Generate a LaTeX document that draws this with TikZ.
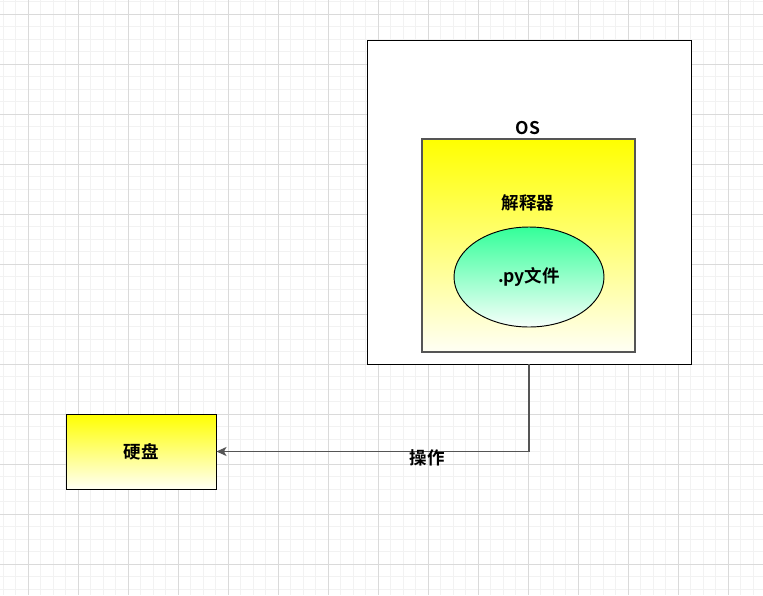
\documentclass[tikz,border=0pt]{standalone}
\usepackage{fontspec}
\usepackage{xcolor}
\usetikzlibrary{arrows.meta,shapes.geometric}
\setmainfont{Noto Sans CJK SC}[BoldFont={Noto Sans CJK SC Bold}]

\definecolor{gridminor}{HTML}{F2F2F2}
\definecolor{gridmajor}{HTML}{DADADA}
\definecolor{pyfill}{HTML}{33FF99}
\definecolor{boxedge}{HTML}{555555}

\tikzset{
    yellowbox/.style={draw=black, line width=0.95pt, top color=yellow, bottom color=yellow!4!white, inner sep=0pt},
    boldlabel/.style={font=\fontsize{17.5}{20}\selectfont\bfseries, inner sep=0pt}
}

\begin{document}
\begin{tikzpicture}[x=1pt, y=-1pt]
    \useasboundingbox (0,0) rectangle (763,595);
    \fill[white] (0,0) rectangle (763,595);

    % background grid, minor then major lines
    \foreach \x in {3,15.5,...,763} {
        \draw[gridminor, line width=0.8pt] (\x,0) -- (\x,595);
    }
    \foreach \y in {1.5,14,...,595} {
        \draw[gridminor, line width=0.8pt] (0,\y) -- (763,\y);
    }
    \foreach \x in {28,78,...,763} {
        \draw[gridmajor, line width=0.8pt] (\x,0) -- (\x,595);
    }
    \foreach \y in {14,64,...,595} {
        \draw[gridmajor, line width=0.8pt] (0,\y) -- (763,\y);
    }

    % operating system frame
    \node[draw=black, fill=white, line width=0.95pt, minimum width=324pt, minimum height=324pt, inner sep=0pt] (os) at (529,202) {};
    \node[boldlabel] (oslabel) at (528,128) {OS};

    % interpreter
    \node[yellowbox, draw=boxedge, line width=1.1pt, minimum width=213pt, minimum height=213pt] (interp) at (528.5,245.5) {};
    \node[boldlabel] (interplabel) at (528,203) {解释器};

    % source file
    \node[ellipse, draw=black, line width=0.95pt, top color=pyfill, bottom color=pyfill!4!white, minimum width=150pt, minimum height=100pt, inner sep=0pt] (pyfile) at (529,277) {};
    \node[boldlabel] (pylabel) at (529,277) {.py文件};

    % hard disk
    \node[yellowbox, minimum width=150pt, minimum height=75pt] (disk) at (141,451.5) {\textbf{\fontsize{17.5}{20}\selectfont 硬盘}};

    % access path
    \draw[boxedge, line width=1.4pt, -{Stealth[length=10pt, width=9pt, inset=2.5pt]}] (os.south) |- (disk.east);
    \node[boldlabel] (oplabel) at (427,458) {操作};

\end{tikzpicture}
\end{document}
